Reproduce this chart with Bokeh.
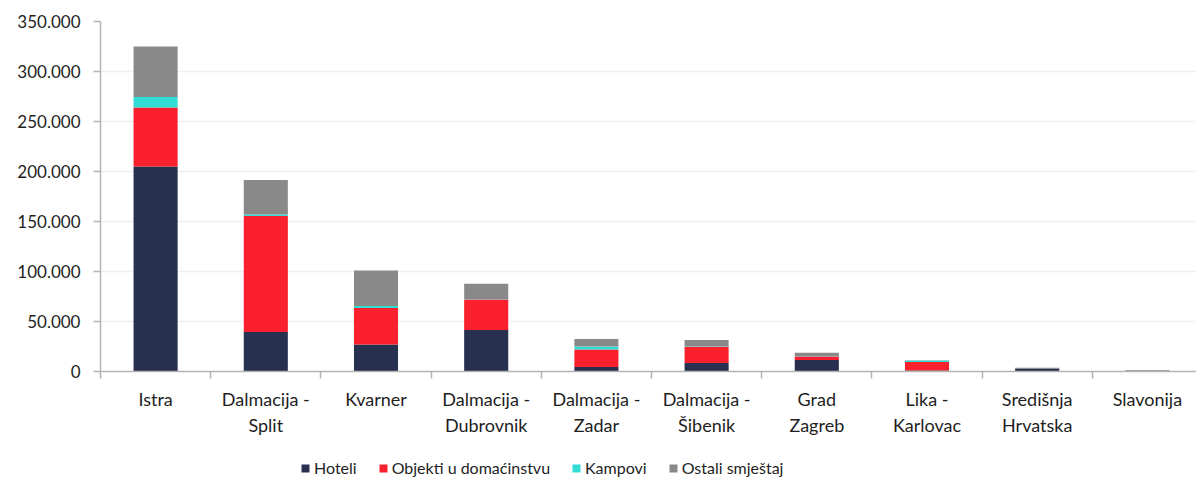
from bokeh.plotting import figure
from bokeh.layouts import column
from bokeh.models import ColumnDataSource, Range1d, FixedTicker, Legend, LegendItem
from bokeh.embed import file_html
from bokeh.resources import INLINE

categories = ["Istra", "Dalmacija -\nSplit", "Kvarner", "Dalmacija -\nDubrovnik", "Dalmacija -\nZadar",
              "Dalmacija -\nŠibenik", "Grad\nZagreb", "Lika -\nKarlovac", "Središnja\nHrvatska", "Slavonija"]
hoteli = [205000, 39500, 27000, 41500, 4500, 8500, 11500, 1000, 3000, 500]
objekti = [59000, 116000, 36500, 30500, 17500, 16500, 3500, 8500, 300, 200]
kampovi = [10500, 1500, 2000, 300, 3000, 500, 200, 1500, 100, 100]
ostali = [50500, 34500, 35500, 15500, 7500, 6000, 3500, 300, 300, 800]
series = ["Hoteli", "Objekti u domaćinstvu", "Kampovi", "Ostali smještaj"]
colors = ["#283050", "#fb202d", "#30dcd4", "#898989"]
y_ticks = [0, 50000, 100000, 150000, 200000, 250000, 300000, 350000]

n = len(categories)
xs = [i + 0.5 for i in range(n)]
src = ColumnDataSource(dict(x=xs, hoteli=hoteli, objekti=objekti, kampovi=kampovi, ostali=ostali))
stack_cols = ["hoteli", "objekti", "kampovi", "ostali"]

FONT = "Lato"
TXT = "#1e1e1e"
W = 1196
TOP_H, H, LEG_H = 2, 447, 30
left, right, top, bottom = 100, 0, 19, 78
frame_w = W - left - right
slot = 110.2

# thin light-blue rule at the very top
pt = figure(width=W, height=TOP_H, output_backend="svg", toolbar_location=None,
            x_range=Range1d(0, 1), y_range=Range1d(0, 1),
            min_border_left=0, min_border_right=0, min_border_top=0, min_border_bottom=0,
            outline_line_color=None, background_fill_color="#93b6d3", border_fill_color="#93b6d3")
pt.axis.visible = False
pt.grid.visible = False

p = figure(width=W, height=H, output_backend="svg", toolbar_location=None,
           x_range=Range1d(0, frame_w / slot), y_range=Range1d(0, 350000),
           min_border_left=left, min_border_right=right, min_border_top=top, min_border_bottom=bottom,
           outline_line_color=None, background_fill_color="white", border_fill_color="white")

rs = p.vbar_stack(stack_cols, x="x", width=0.4, source=src, color=colors, line_color=None)

# axes
xa = p.xaxis[0]
xa.ticker = FixedTicker(ticks=xs, minor_ticks=list(range(n + 1)))
xa.major_label_overrides = {x: c for x, c in zip(xs, categories)}
xa.major_tick_out = 0
xa.major_tick_in = 0
xa.minor_tick_out = 7
xa.minor_tick_in = 0
xa.minor_tick_line_color = "#b3b3b3"
xa.minor_tick_line_width = 1.5
xa.axis_line_color = "#b3b3b3"
xa.axis_line_width = 1.5
xa.major_label_text_font = FONT
xa.major_label_text_font_size = "18px"
xa.major_label_text_color = TXT
xa.major_label_text_line_height = 1.2
xa.major_label_standoff = 9

ya = p.yaxis[0]
ya.ticker = FixedTicker(ticks=y_ticks)
ya.major_label_overrides = {v: f"{v:,}".replace(",", ".") for v in y_ticks}
ya.major_tick_out = 7
ya.major_tick_in = 0
ya.minor_tick_line_color = None
ya.major_tick_line_color = "#b3b3b3"
ya.major_tick_line_width = 1.5
ya.axis_line_color = "#b3b3b3"
ya.axis_line_width = 1.5
ya.major_label_text_font = FONT
ya.major_label_text_font_size = "17px"
ya.major_label_text_color = TXT
ya.major_label_standoff = 13

p.xgrid.grid_line_color = None
p.ygrid.grid_line_color = "#f0f0f0"
p.ygrid.grid_line_width = 1.5
p.ygrid.ticker = FixedTicker(ticks=y_ticks[1:])

# legend strip (frame aligned with the chart frame by the column layout)
pl = figure(width=W, height=LEG_H, output_backend="svg", toolbar_location=None,
            x_range=Range1d(0, 1), y_range=Range1d(0, 1),
            min_border_left=0, min_border_right=0, min_border_top=0, min_border_bottom=0,
            outline_line_color=None, background_fill_color="white", border_fill_color="white")
pl.axis.visible = False
pl.grid.visible = False
leg_rs = pl.vbar_stack(stack_cols, x="x", width=0.4, source=src, color=colors, line_color=None)
for r in leg_rs:
    r.visible = False
legend = Legend(items=[LegendItem(label=s, renderers=[r]) for s, r in zip(series, leg_rs)],
                orientation="horizontal", location=(200, 2),
                label_text_font=FONT, label_text_font_size="16px", label_text_color=TXT,
                glyph_width=10, glyph_height=10, label_standoff=4, spacing=21,
                border_line_color=None, background_fill_alpha=0, padding=0, margin=0,
                label_height=16, inactive_fill_alpha=0)
pl.add_layout(legend)

layout = column(pt, p, pl, spacing=0)
open("out.html", "w").write(file_html(layout, INLINE))
